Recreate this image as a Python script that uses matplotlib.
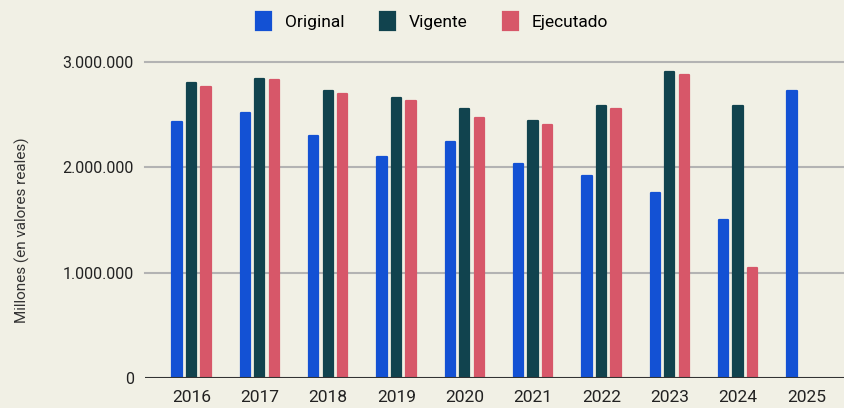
import numpy as np
import matplotlib.pyplot as plt
from matplotlib.ticker import FuncFormatter

years = ["2016", "2017", "2018", "2019", "2020", "2021", "2022", "2023", "2024", "2025"]
original = [2434000, 2513000, 2298000, 2102000, 2238000, 2029000, 1921000, 1754000, 1500000, 2722000]
vigente = [2798000, 2843000, 2722000, 2662000, 2552000, 2437000, 2586000, 2903000, 2586000, np.nan]
ejecutado = [2766000, 2827000, 2694000, 2631000, 2466000, 2403000, 2555000, 2877000, 1047000, np.nan]

series = [("Original", original, "#1351d4"),
          ("Vigente", vigente, "#11434e"),
          ("Ejecutado", ejecutado, "#d75769")]

bg = "#f1f0e5"
plt.rcParams['font.family'] = ['Roboto', 'DejaVu Sans']

fig = plt.figure(figsize=(8.44, 4.08), dpi=100, facecolor=bg)
ax = fig.add_axes([145/844, 1-378/408, 1-145/844, (378-62)/408])
ax.set_facecolor(bg)

x = np.arange(len(years))
w = 0.135
step = 0.212
for i, (name, vals, col) in enumerate(series):
    ax.bar(x + (i-1)*step, vals, width=w, color=col, edgecolor=col, label=name,
           zorder=3, linewidth=1.6, joinstyle="round")

ax.set_xlim(-0.68, 9.55)
ax.set_ylim(0, 3000000)
ax.set_yticks([0, 1000000, 2000000, 3000000])
ax.yaxis.set_major_formatter(FuncFormatter(lambda v, p: f"{int(v):,}".replace(",", ".")))
ax.set_xticks(x)
ax.set_xticklabels(years)

for v in [1000000, 2000000, 3000000]:
    ax.axhline(v, color="#b3b3b3", lw=1.5, zorder=1, clip_on=False)
ax.axhline(0, color="#333333", lw=1.5, zorder=4)

for s in ax.spines.values():
    s.set_visible(False)
ax.tick_params(axis='both', length=0, colors="#222222")
ax.tick_params(axis='y', pad=8, labelsize=11.5)
ax.tick_params(axis='x', pad=9, labelsize=12.5)
ax.set_ylabel("Millones (en valores reales)", fontsize=11, color="#333333")
ax.yaxis.set_label_coords(-115/699, 0.468)

fig.legend(loc="upper center", bbox_to_anchor=(0.512, 1.01), ncol=3, frameon=False,
           fontsize=12.5, handlelength=0.9, handleheight=1.3, columnspacing=2.0, handletextpad=0.8)

fig.savefig("out.png", dpi=100, facecolor=bg)
